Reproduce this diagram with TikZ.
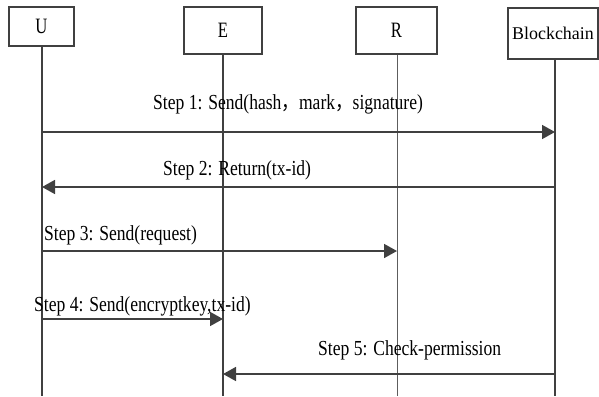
\documentclass[tikz,border=0pt]{standalone}
\usepackage{fontspec}
\setmainfont{Liberation Serif}
\newfontfamily\lab[FakeStretch=0.82]{Liberation Serif}
\newfontfamily\letr[FakeStretch=0.76]{Liberation Serif}
\newfontfamily\cjk[FakeStretch=0.82]{Noto Sans CJK SC}
\usetikzlibrary{arrows.meta}
\definecolor{ink}{HTML}{404040}
\newcommand{\fc}{{\cjk ，}}
\begin{document}
\begin{tikzpicture}[x=1bp,y=-1bp,
  actor/.style={draw=ink,line width=1.2bp,inner sep=0pt},
  lettext/.style={font=\letr\fontsize{22}{24}\selectfont},
  lifeline/.style={draw=ink,line width=1.2bp},
  thinlife/.style={draw=ink!85,line width=0.9bp},
  msg/.style={draw=ink,line width=1.6bp,-{Triangle[length=13bp,width=14bp]}},
  steplabel/.style={anchor=base west,inner sep=0pt,font=\lab\fontsize{21.5}{24}\selectfont,text=black}]
\useasboundingbox (0,0) rectangle (599,396);
% actor boxes
\node[actor,lettext,minimum width=65bp,minimum height=39bp] (U) at (41.5,26.5) {U};
\node[actor,lettext,minimum width=78bp,minimum height=47bp] (E) at (223,30.5) {E};
\node[actor,lettext,minimum width=81bp,minimum height=47bp] (R) at (396.5,30.5) {R};
\node[actor,minimum width=90bp,minimum height=51bp,font=\fontsize{18}{20}\selectfont] (B) at (553,33.5) {Blockchain};
% lifeline ends
\coordinate (Ue) at (42,396);
\coordinate (Ee) at (223,396);
\coordinate (Re) at (397,396);
\coordinate (Be) at (555,396);
\draw[lifeline] (Ue |- U.south) -- (Ue);
\draw[lifeline] (Ee |- E.south) -- (Ee);
\draw[thinlife] (Re |- R.south) -- (Re);
\draw[lifeline] (Be |- B.south) -- (Be);
% message levels
\coordinate (m1) at (0,132);
\coordinate (m2) at (0,187);
\coordinate (m3) at (0,251);
\coordinate (m4) at (0,319);
\coordinate (m5) at (0,374);
\draw[msg] (Ue |- m1) -- (Be |- m1);
\draw[msg] (Be |- m2) -- (Ue |- m2);
\draw[msg] (Ue |- m3) -- (Re |- m3);
\draw[msg] (Ue |- m4) -- (Ee |- m4);
\draw[msg] (Be |- m5) -- (Ee |- m5);
% labels
\node[steplabel] (t1) at (153,109) {Step 1: Send(hash\fc mark\fc signature)};
\node[steplabel] (t2) at (163,175) {Step 2: Return(tx-id)};
\node[steplabel] (t3) at (44,240) {Step 3: Send(request)};
\node[steplabel] (t4) at (34,311) {Step 4: Send(encryptkey,tx-id)};
\node[steplabel] (t5) at (318,355) {Step 5: Check-permission};
\end{tikzpicture}
\end{document}
